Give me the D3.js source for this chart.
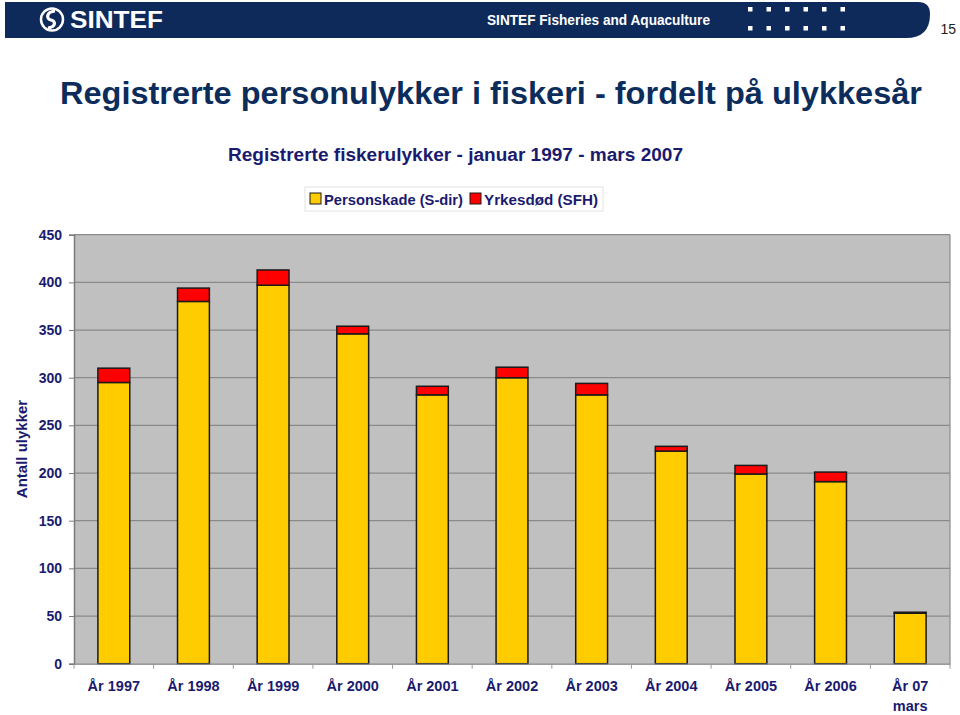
<!DOCTYPE html>
<html>
<head>
<meta charset="utf-8">
<script src="https://cdn.jsdelivr.net/npm/d3@7"></script>
<style>
  html, body { margin: 0; padding: 0; background: #ffffff; }
  svg { display: block; }
  text { font-family: "Liberation Sans", Arial, Helvetica, sans-serif; }
</style>
</head>
<body>
<svg id="chart" width="960" height="715"></svg>
<script>
// ---------- data ----------
const categories = ["År 1997", "År 1998", "År 1999", "År 2000", "År 2001", "År 2002",
                    "År 2003", "År 2004", "År 2005", "År 2006", "År 07\nmars"];
const personskade = [295, 380, 397, 346, 282, 300, 282, 223, 199, 191, 53];
const yrkesdod    = [15, 14, 16, 8, 9, 11, 12, 5, 9, 10, 1];
const seriesNames = ["Personskade (S-dir)", "Yrkesdød (SFH)"];
const seriesColors = ["#FFCC00", "#FF0000"];
const yTicks = [0, 50, 100, 150, 200, 250, 300, 350, 400, 450];
const titleText = "Registrerte personulykker i fiskeri - fordelt på ulykkesår";
const subtitleText = "Registrerte fiskerulykker - januar 1997 - mars 2007";
const yAxisTitle = "Antall ulykker";

// ---------- setup ----------
const svg = d3.select("#chart");
const navy = "#1a1a6e";
const titleColor = "#0c2d5c";

// Header bar
const hb = svg.append("g");
hb.append("path")
  .attr("d", "M5,2 H918 Q930,2 930,14 V14 Q930,38 906,38 H5 Z")
  .attr("fill", "#0e2a5a");
// logo ring
hb.append("circle").attr("cx", 52).attr("cy", 19.5).attr("r", 11)
  .attr("fill", "none").attr("stroke", "#fff").attr("stroke-width", 2.5);
hb.append("path")
  .attr("d", "M55,11 C46,12 46,19 51,20 C56,21 56,27 48,28")
  .attr("fill", "none").attr("stroke", "#fff").attr("stroke-width", 3.2);
hb.append("text").attr("x", 70).attr("y", 28)
  .attr("font-size", 23).attr("font-weight", "bold").attr("fill", "#fff")
  .attr("textLength", 93).attr("lengthAdjust", "spacingAndGlyphs")
  .text("SINTEF");
hb.append("text").attr("x", 487).attr("y", 25)
  .attr("font-size", 15).attr("font-weight", "bold").attr("fill", "#fff")
  .attr("textLength", 223).attr("lengthAdjust", "spacingAndGlyphs")
  .text("SINTEF Fisheries and Aquaculture");
const dotX = [750, 768.5, 787, 805.5, 824, 842.5];
[9, 28].forEach(yy => {
  dotX.forEach(xx => {
    hb.append("rect").attr("x", xx - 2).attr("y", yy - 2)
      .attr("width", 4.5).attr("height", 4.5).attr("fill", "#fff");
  });
});
svg.append("text").attr("x", 956).attr("y", 34).attr("text-anchor", "end")
  .attr("font-size", 14).attr("fill", "#222").text("15");

// Titles
svg.append("text").attr("x", 60).attr("y", 104)
  .attr("font-size", 32).attr("font-weight", "bold").attr("fill", titleColor)
  .attr("textLength", 862).attr("lengthAdjust", "spacingAndGlyphs")
  .text(titleText);
svg.append("text").attr("x", 228).attr("y", 161)
  .attr("font-size", 18).attr("font-weight", "bold").attr("fill", navy)
  .attr("textLength", 455).attr("lengthAdjust", "spacingAndGlyphs")
  .text(subtitleText);

// ---------- plot ----------
const plot = { left: 74, right: 950, top: 234.7, bottom: 663.7 };

const x = d3.scaleBand()
  .domain(categories)
  .range([plot.left, plot.right])
  .paddingInner(0.6)
  .paddingOuter(0.3);

const y = d3.scaleLinear()
  .domain([0, 450])
  .range([plot.bottom, plot.top]);

// background
svg.append("rect")
  .attr("x", plot.left).attr("y", plot.top)
  .attr("width", plot.right - plot.left).attr("height", plot.bottom - plot.top)
  .attr("fill", "#C0C0C0");

// gridlines
svg.append("g").selectAll("line").data(yTicks.filter(d => d > 0)).join("line")
  .attr("x1", plot.left).attr("x2", plot.right)
  .attr("y1", d => y(d)).attr("y2", d => y(d))
  .attr("stroke", "#8a8a8a").attr("stroke-width", 1.2);

// right border
svg.append("line").attr("x1", plot.right).attr("x2", plot.right)
  .attr("y1", plot.top).attr("y2", plot.bottom)
  .attr("stroke", "#8a8a8a").attr("stroke-width", 1.2);

// stacked bars
const rows = categories.map((c, i) => ({ cat: c, p: personskade[i], y: yrkesdod[i] }));
const stack = d3.stack().keys(["p", "y"]);
const stacked = stack(rows);

svg.append("g").selectAll("g").data(stacked).join("g")
  .attr("fill", (d, i) => seriesColors[i])
  .selectAll("rect").data(d => d).join("rect")
  .attr("x", d => x(d.data.cat))
  .attr("width", x.bandwidth())
  .attr("y", d => y(d[1]))
  .attr("height", d => y(d[0]) - y(d[1]))
  .attr("stroke", "#1a1a1a").attr("stroke-width", 1.5);

// y axis
const yAxis = d3.axisLeft(y).tickValues(yTicks).tickSize(5).tickPadding(7);
const gy = svg.append("g").attr("transform", `translate(${plot.left},0)`).call(yAxis);
gy.select(".domain").attr("stroke", "#7a7a7a").attr("stroke-width", 1.5);
gy.selectAll(".tick line").attr("stroke", "#7a7a7a");
gy.selectAll(".tick text")
  .attr("font-family", "'Liberation Sans', Arial, sans-serif")
  .attr("font-size", 14).attr("font-weight", "bold").attr("fill", navy);

// x axis
const xAxis = d3.axisBottom(x).tickSize(0).tickPadding(0).tickFormat("");
const gx = svg.append("g").attr("transform", `translate(0,${plot.bottom})`).call(xAxis);
gx.select(".domain").attr("stroke", "#7a7a7a").attr("stroke-width", 1.2);
// category boundary ticks
const step = x.step();
const bounds = d3.range(categories.length + 1).map(i => plot.left + i * step);
gx.selectAll(".bnd").data(bounds).join("line").attr("class", "bnd")
  .attr("x1", d => d).attr("x2", d => d).attr("y1", 0).attr("y2", 5)
  .attr("stroke", "#9a9a9a");
// labels
gx.selectAll(".tick").each(function(d) {
  const t = d3.select(this).append("text")
    .attr("y", 27).attr("text-anchor", "middle")
    .attr("font-size", 14.5).attr("font-weight", "bold").attr("fill", navy);
  d.split("\n").forEach((line, i) => {
    t.append("tspan").attr("x", 0).attr("dy", i === 0 ? 0 : 20).text(line);
  });
});

// y axis title
svg.append("text")
  .attr("transform", `translate(27,449) rotate(-90)`)
  .attr("text-anchor", "middle")
  .attr("font-size", 15).attr("font-weight", "bold").attr("fill", navy)
  .text(yAxisTitle);

// legend
const lg = svg.append("g");
lg.append("rect").attr("x", 305).attr("y", 187).attr("width", 298).attr("height", 24)
  .attr("fill", "#fff").attr("stroke", "#e2e2e2");
const legendPos = [{ sx: 310, tx: 324, w: 139 }, { sx: 470, tx: 484, w: 114 }];
seriesNames.forEach((name, i) => {
  lg.append("rect").attr("x", legendPos[i].sx).attr("y", 193)
    .attr("width", 11).attr("height", 11)
    .attr("fill", seriesColors[i]).attr("stroke", "#1a1a1a").attr("stroke-width", 1);
  lg.append("text").attr("x", legendPos[i].tx).attr("y", 204.5)
    .attr("font-size", 14.5).attr("font-weight", "bold").attr("fill", navy)
    .attr("textLength", legendPos[i].w).attr("lengthAdjust", "spacingAndGlyphs")
    .text(name);
});
</script>
</body>
</html>
